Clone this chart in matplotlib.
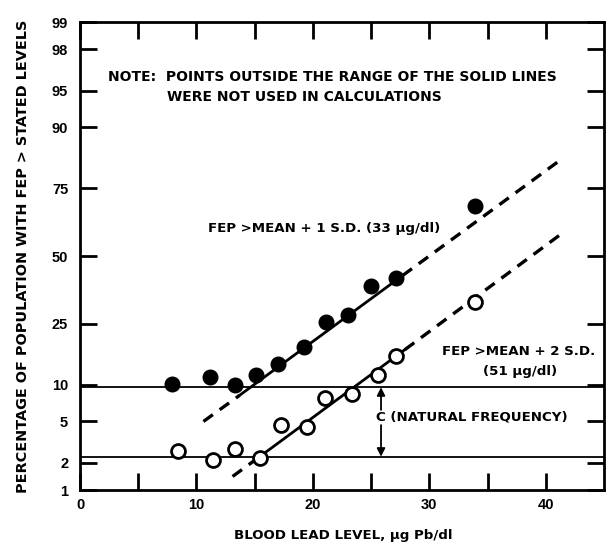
import numpy as np
import matplotlib.pyplot as plt
from matplotlib.ticker import FixedLocator, NullLocator
from statistics import NormalDist

plt.rcParams['font.family'] = ['Liberation Sans', 'DejaVu Sans']
plt.rcParams['font.weight'] = 'bold'
LABEL_FONT = ['DejaVu Sans']

# filled circles: FEP > mean + 1 S.D. (33 ug/dl)
lead_1sd = [7.9, 11.2, 13.3, 15.1, 17.0, 19.2, 21.1, 23.0, 25.0, 27.1, 33.9]
pct_1sd = [10.2, 11.4, 9.9, 11.8, 14.1, 18.3, 25.5, 27.9, 38.1, 41.4, 69.1]

# open circles: FEP > mean + 2 S.D. (51 ug/dl)
lead_2sd = [8.4, 11.4, 13.3, 15.5, 17.3, 19.5, 21.0, 23.4, 25.6, 27.1, 33.9]
pct_2sd = [2.64, 2.11, 2.75, 2.22, 4.64, 4.48, 7.96, 8.58, 11.8, 16.0, 32.4]

# fitted lines: dash start, solid start, solid end, dash end
fit1_x = [10.6, 13.7, 27.7, 41.2]
fit1_y = [5.0, 8.3, 42.3, 82.9]
fit2_x = [13.1, 15.0, 27.9, 41.3]
fit2_y = [1.42, 2.11, 17.6, 58.6]

# natural frequency levels (horizontal lines)
natural_hi = 9.6
natural_lo = 2.3

y_ticks = [1, 2, 5, 10, 25, 50, 75, 90, 95, 98, 99]
x_major = [0, 10, 20, 30, 40]
x_minor = [5, 15, 25, 35]

nd = NormalDist()


def fwd(p):
    p = np.clip(np.asarray(p, dtype=float), 1e-6, 100 - 1e-6)
    return np.array([nd.inv_cdf(v / 100.0) for v in p.ravel()]).reshape(p.shape)


def inv(z):
    z = np.asarray(z, dtype=float)
    return np.array([nd.cdf(v) * 100.0 for v in z.ravel()]).reshape(z.shape)


fig = plt.figure(figsize=(6.07, 5.45), dpi=100)
ax = fig.add_axes([0.1318, 0.1009, 0.8633, 0.8587])
ax.set_yscale('function', functions=(fwd, inv))
ax.set_xlim(0, 45)
ax.set_ylim(1, 99)

# reference lines
ax.axhline(natural_hi, color='black', lw=1.3)
ax.axhline(natural_lo, color='black', lw=1.3)

# fitted lines
dash = dict(color='black', lw=2.4, dashes=(3.5, 2.5))
solid = dict(color='black', lw=2.0)
for fx, fy in [(fit1_x, fit1_y), (fit2_x, fit2_y)]:
    ax.plot(fx[:2], fy[:2], **dash)
    ax.plot(fx[1:3], fy[1:3], **solid)
    ax.plot(fx[2:], fy[2:], **dash)

# points
ax.plot(lead_1sd, pct_1sd, 'o', color='black', ms=10.5, zorder=5)
ax.plot(lead_2sd, pct_2sd, 'o', mfc='white', mec='black', mew=2, ms=10, zorder=5)

# axes style
for s in ax.spines.values():
    s.set_linewidth(2)
ax.yaxis.set_major_locator(FixedLocator(y_ticks))
ax.yaxis.set_minor_locator(NullLocator())
ax.set_yticklabels([str(t) for t in y_ticks])
ax.xaxis.set_major_locator(FixedLocator(x_major))
ax.xaxis.set_minor_locator(FixedLocator(x_minor))
ax.tick_params(which='both', direction='in', top=True, right=True,
               length=12, width=2, labelsize=10.5)
ax.tick_params(axis='y', pad=8.5)
ax.tick_params(axis='x', pad=6)

# texts
tk = dict(fontsize=9.6, family=LABEL_FONT, va='center')
ax.text(0.0534, 0.8825, 'NOTE:  POINTS OUTSIDE THE RANGE OF THE SOLID LINES',
        transform=ax.transAxes, ha='left', fontsize=10, family=LABEL_FONT, va='center')
ax.text(0.166, 0.8397, 'WERE NOT USED IN CALCULATIONS',
        transform=ax.transAxes, ha='left', fontsize=10, family=LABEL_FONT, va='center')
ax.text(0.244, 0.5598, 'FEP >MEAN + 1 S.D. (33 \u03bcg/dl)',
        transform=ax.transAxes, ha='left', **tk)
ax.text(0.690, 0.295, 'FEP >MEAN + 2 S.D.',
        transform=ax.transAxes, ha='left', **tk)
ax.text(0.840, 0.2527, '(51 \u03bcg/dl)',
        transform=ax.transAxes, ha='center', **tk)
ax.text(25.4, 5.5, 'C (NATURAL FREQUENCY)', ha='left', **tk)

# double arrow for natural frequency
ax.annotate('', xy=(25.85, natural_hi), xytext=(25.85, 6.3),
            arrowprops=dict(arrowstyle='-|>', color='black', lw=1.3,
                            shrinkA=0, shrinkB=0, mutation_scale=12))
ax.annotate('', xy=(25.85, natural_lo), xytext=(25.85, 4.64),
            arrowprops=dict(arrowstyle='-|>', color='black', lw=1.3,
                            shrinkA=0, shrinkB=0, mutation_scale=12))

fig.text(0.0374, 0.530, 'PERCENTAGE OF POPULATION WITH FEP > STATED LEVELS',
         rotation=90, ha='center', va='center', fontsize=10.4, family=LABEL_FONT)
fig.text(0.565, 0.018, 'BLOOD LEAD LEVEL, \u03bcg Pb/dl',
         ha='center', va='center', fontsize=9.6, family=LABEL_FONT)

fig.savefig('out.png', dpi=100)
